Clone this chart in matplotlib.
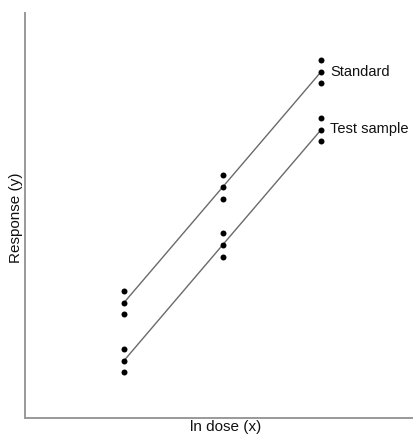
import matplotlib
matplotlib.use("Agg")
import matplotlib.pyplot as plt
import numpy as np

plt.rcParams['font.family'] = ['Liberation Sans', 'DejaVu Sans']

ln_dose = [1, 2, 3]
standard_reps = [[12.7, 11.55, 10.4], [24.3, 23.1, 21.9], [35.8, 34.65, 33.5]]
test_reps = [[6.9, 5.75, 4.6], [18.5, 17.3, 16.15], [30.0, 28.85, 27.7]]
series_labels = ["Standard", "Test sample"]

W, H = 414, 434
fig = plt.figure(figsize=(W/100, H/100), dpi=100)
ax = fig.add_axes([25.5/W, (H-418)/H, (W-25.5)/W, (418-13)/H])

for reps, lab in zip([standard_reps, test_reps], series_labels):
    means = [np.mean(r) for r in reps]
    ax.plot(ln_dose, means, color='#6a6a6a', lw=1.0, zorder=1)
    for xv, r in zip(ln_dose, reps):
        ax.plot([xv]*len(r), r, 'o', color='black', ms=4.3, mec='none', zorder=2)
    ax.annotate(lab, (ln_dose[-1], means[-1]), xytext=(6.5, 0), textcoords='offset points',
                va='center', ha='left', fontsize=10.5, color='#111111')

ax.set_xlim(0, 3.94)
ax.set_ylim(0, 40.5)
ax.set_xticks([])
ax.set_yticks([])
for s in ['top', 'right']:
    ax.spines[s].set_visible(False)
for s in ['left', 'bottom']:
    ax.spines[s].set_color('#999999')
    ax.spines[s].set_linewidth(1.4)

fig.text(226/W, 1-427/H, "ln dose (x)", ha='center', va='center', fontsize=11, color='#111111')
fig.text(16/W, 1-218/H, "Response (y)", ha='center', va='center', rotation=90, fontsize=11, color='#111111')

fig.savefig("out.png", dpi=100)
